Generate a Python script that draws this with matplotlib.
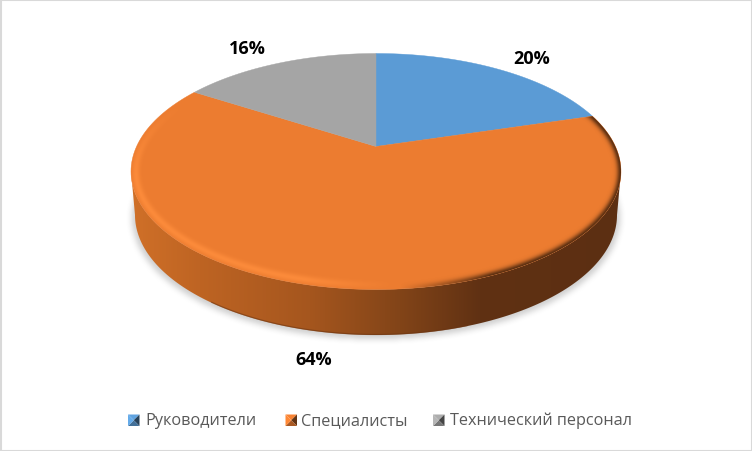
import numpy as np
import matplotlib
matplotlib.use("Agg")
import matplotlib.pyplot as plt
from matplotlib.patches import Polygon, Rectangle

categories = ["Руководители", "Специалисты", "Технический персонал"]
shares = [20.4, 63.6, 16.0]
colors = ["#5B9BD5", "#EC7C30", "#A5A5A5"]
label_pos = [(531.5, 58.5), (313.5, 360.5), (247, 48.5)]
legend_x = [128, 285.5, 433]
legend_gap = [5.5, 3.5, 5.5]

W, H = 752, 452
# top face and bottom edge of the disc, in pixels
cx, cy, a, b = 376, 172.5, 245, 118
bx, by, ba, bb = 376, 216, 241, 120
tilt = 0.212

fig = plt.figure(figsize=(W / 100, H / 100), dpi=100)
ax = fig.add_axes([0, 0, 1, 1])


def rim_point(t):
    # t is degrees clockwise from the top, with perspective
    t = np.radians(t)
    u, v = np.sin(t), np.cos(t)
    d = 1 + tilt * v
    return cx + a * u * np.sqrt(1 - tilt ** 2) / d, cy - b * (v + tilt) / d


def blur(img, n):
    k = np.ones(n) / n
    for i in range(2):
        img = np.apply_along_axis(lambda r: np.convolve(r, k, mode="same"), 0, img)
        img = np.apply_along_axis(lambda r: np.convolve(r, k, mode="same"), 1, img)
    return img


def shade(col, f):
    c = np.array(matplotlib.colors.to_rgb(col))
    return tuple(np.clip(c * f, 0, 1))


X, Y = np.meshgrid(np.arange(W) + 0.5, np.arange(H) + 0.5)
extent = (0, W, H, 0)

# frame
ax.add_patch(Rectangle((0.5, 0.5), W - 1, H - 1, fc="white", ec="#D9D9D9", lw=1.5))

# soft shadow under the disc
m = (((X - bx) / (ba + 3)) ** 2 + ((Y - by - 3) / (bb + 1)) ** 2 < 1).astype(float)
m[Y < 170] = 0
sh = np.zeros((H, W, 4))
sh[..., :3] = 0.55
sh[..., 3] = blur(m, 7) * 0.42
ax.imshow(sh, extent=extent, zorder=1, aspect="auto", interpolation="bilinear")

# side wall
t = np.linspace(0, np.pi, 200)
upper = np.c_[cx + a * np.cos(t), cy + b * np.sin(t)]
lower = np.c_[bx + ba * np.cos(t[::-1]), by + bb * np.sin(t[::-1])]
side = Polygon(np.r_[upper, lower], closed=True, fc="none", ec="none")
ax.add_patch(side)
stops_x = [131, 200, 310, 400, 480, 621]
stops_r = [208, 190, 165, 130, 96, 92]
stops_g = [112, 100, 86, 68, 49, 47]
stops_b = [40, 35, 30, 24, 19, 18]
grad = np.dstack([np.interp(X, stops_x, s) / 255 for s in (stops_r, stops_g, stops_b)])
im = ax.imshow(grad, extent=extent, zorder=2, aspect="auto", interpolation="bilinear")
im.set_clip_path(side)
edge = (lower[:, 0] > 210) & (lower[:, 0] < 470)
ax.plot(lower[edge, 0], lower[edge, 1] - 0.5, color="#6B3512", lw=0.9, alpha=0.55, zorder=2.5)

# pie top
start = 0
orange_poly = None
for share, col in zip(shares, colors):
    end = start + share * 3.6
    th = np.linspace(start, end, 150)
    px, py = rim_point(th)
    pts = np.c_[np.r_[cx, px], np.r_[cy - b * tilt, py]]
    p = Polygon(pts, closed=True, fc=col, ec=col, lw=0.3, zorder=3)
    ax.add_patch(p)
    if col == colors[1]:
        orange_poly = p
    start = end

# bevel along the front edge of the orange slice
r = np.sqrt(((X - cx) / a) ** 2 + ((Y - cy) / b) ** 2)
g = np.sqrt(((X - cx) / a ** 2) ** 2 + ((Y - cy) / b ** 2) ** 2) / np.maximum(r, 1e-6)
d = (1 - r) / np.maximum(g, 1e-6)
lit = np.clip((395 - X) / 90, 0, 1) * np.clip((Y - 105) / 70, 0, 1)
drk = np.clip((X - 400) / 90, 0, 1)
light = np.exp(-((d - 5) / 3.8) ** 2) * 0.8 * lit
dark = np.exp(-(d / 4.0) ** 2) * 0.95 * drk
bev = np.zeros((H, W, 4))
w = drk > 0
bev[..., 0] = np.where(w, 0.33, 1.0)
bev[..., 1] = np.where(w, 0.17, 0.56)
bev[..., 2] = np.where(w, 0.06, 0.24)
bev[..., 3] = np.where(d > -1, light + dark, 0)
im2 = ax.imshow(bev, extent=extent, zorder=4, aspect="auto", interpolation="bilinear")
im2.set_clip_path(orange_poly)

# data labels
for share, (lx, ly) in zip(shares, label_pos):
    ax.text(lx, ly, f"{share:.0f}%", ha="center", va="center", fontsize=13,
            fontweight="bold", family="Open Sans", color="black", zorder=6)

# legend
for name, col, lx, gap in zip(categories, colors, legend_x, legend_gap):
    s = 11.5
    ly = 415.5
    mid = (lx + s / 2, ly + s / 2)
    c1, c2, c3, c4 = (lx, ly), (lx + s, ly), (lx + s, ly + s), (lx, ly + s)
    for tri, f in (((c1, c2), 1.05), ((c2, c3), 0.42), ((c3, c4), 0.72), ((c4, c1), 1.1)):
        ax.add_patch(Polygon([tri[0], tri[1], mid], closed=True, fc=shade(col, f), ec="none", zorder=6))
    ax.text(lx + s + gap, ly + s / 2 - 0.5, name, ha="left", va="center", fontsize=11.7,
            family="Open Sans", color="#595959", zorder=6)

ax.set_xlim(0, W)
ax.set_ylim(H, 0)
ax.axis("off")
fig.savefig("out.png", dpi=100)
